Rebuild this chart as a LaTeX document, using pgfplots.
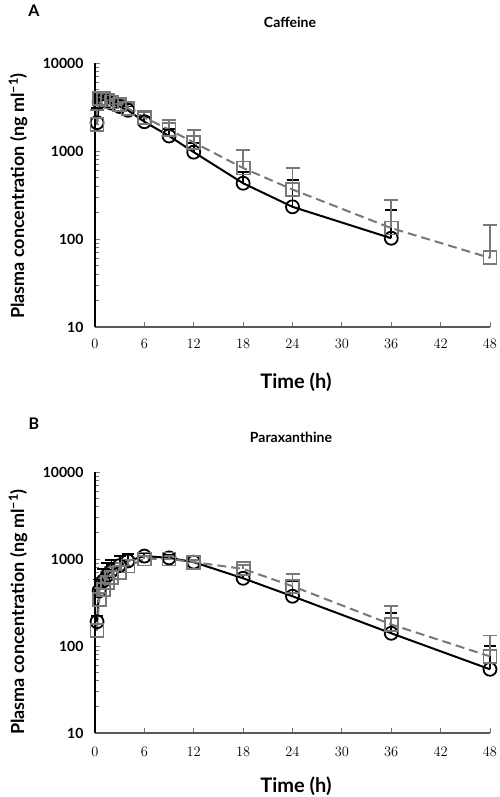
\documentclass[border=0pt]{standalone}
\usepackage{fontspec}
\setmainfont{Lato}
\usepackage{pgfplots}
\usepackage{pgfplotstable}
\pgfplotsset{compat=1.18}
\definecolor{sq}{HTML}{787878}

\pgfplotstableread{
t c e
0.25 2100 1000
0.5 3600 500
1 3800 500
1.5 3700 450
2 3500 400
3 3200 350
4 2900 300
6 2150 300
9 1480 300
12 970 250
18 430 150
24 232 240
36 102 111
}\cafA
\pgfplotstableread{
t c e
0.25 2000 900
0.5 3950 700
1 4000 600
1.5 3800 600
2 3600 500
3 3350 450
4 3050 400
6 2400 400
9 1750 500
12 1250 500
18 640 380
24 365 275
36 133 147
48 61 84
}\cafB
\pgfplotstableread{
t c e
0.25 190 30
0.5 430 150
1 560 200
1.5 650 250
2 730 250
3 840 250
4 950 200
6 1080 100
9 1030 80
12 920 60
18 600 60
24 373 187
36 140 97
48 54 47
}\parA
\pgfplotstableread{
t c e
0.25 150 30
0.5 340 120
1 450 150
1.5 540 180
2 610 200
3 700 200
4 830 150
6 1000 80
9 1000 80
12 920 60
18 770 80
24 487 183
36 177 110
48 76 56
}\parB

\begin{document}
\begin{tikzpicture}
\path[use as bounding box] (0pt,0pt) rectangle (500pt,797pt);

% Panel A
\begin{axis}[
  ymode=log,
  scale only axis, width=395pt, height=264pt, at={(95pt,470pt)}, anchor=south west,
  xmin=0, xmax=48, ymin=10, ymax=10000,
  axis lines=left,
  x axis line style={-, line width=1.3pt, color=black!65},
  y axis line style={-, line width=1.3pt, color=black},
  xtick={0,6,...,48}, ytick={10,100,1000,10000}, yticklabels={10,100,1000,10000},
  tick align=inside, major tick length=5pt, minor tick length=4pt,
  tick style={black!55, line width=0.9pt},
  ticklabel style={font=\bfseries\fontsize{14}{14}\selectfont},
  xticklabel style={yshift=-9pt},
  yticklabel style={xshift=-8pt},
  clip=false,
]
\addplot[color=black, line width=2pt,
   mark=o, mark size=6.5pt, mark options={solid, draw=black, line width=1.8pt},
   error bars/.cd, y dir=plus, y explicit,
   error bar style={solid, line width=1.8pt, color=black},
   error mark options={solid, rotate=90, mark size=6pt, line width=1.8pt, color=black}]
   table[x=t, y=c, y error=e] {\cafA};
\addplot[color=sq, line width=2pt, dash pattern=on 9pt off 5pt,
   mark=square, mark size=6.5pt, mark options={solid, draw=sq, line width=1.8pt},
   error bars/.cd, y dir=plus, y explicit,
   error bar style={solid, line width=1.8pt, color=sq},
   error mark options={solid, rotate=90, mark size=7pt, line width=1.8pt, color=sq}]
   table[x=t, y=c, y error=e] {\cafB};
\end{axis}

% Panel B
\begin{axis}[
  ymode=log,
  scale only axis, width=395pt, height=261pt, at={(95pt,64pt)}, anchor=south west,
  xmin=0, xmax=48, ymin=10, ymax=10000,
  axis lines=left,
  x axis line style={-, line width=1.3pt, color=black!65},
  y axis line style={-, line width=1.3pt, color=black},
  xtick={0,6,...,48}, ytick={10,100,1000,10000}, yticklabels={10,100,1000,10000},
  tick align=inside, major tick length=5pt, minor tick length=4pt,
  tick style={black!55, line width=0.9pt},
  ticklabel style={font=\bfseries\fontsize{14}{14}\selectfont},
  xticklabel style={yshift=-11pt},
  yticklabel style={xshift=-8pt},
  clip=false,
]
\addplot[color=black, line width=2pt,
   mark=o, mark size=6.5pt, mark options={solid, draw=black, line width=1.8pt},
   error bars/.cd, y dir=plus, y explicit,
   error bar style={solid, line width=1.8pt, color=black},
   error mark options={solid, rotate=90, mark size=6pt, line width=1.8pt, color=black}]
   table[x=t, y=c, y error=e] {\parA};
\addplot[color=sq, line width=2pt, dash pattern=on 9pt off 5pt,
   mark=square, mark size=6.5pt, mark options={solid, draw=sq, line width=1.8pt},
   error bars/.cd, y dir=plus, y explicit,
   error bar style={solid, line width=1.8pt, color=sq},
   error mark options={solid, rotate=90, mark size=7pt, line width=1.8pt, color=sq}]
   table[x=t, y=c, y error=e] {\parB};
\end{axis}

\node[font=\bfseries\fontsize{16}{16}\selectfont] at (34pt,786pt) {A};
\node[font=\bfseries\fontsize{14}{14}\selectfont] at (290pt,775pt) {Caffeine};
\node[font=\bfseries\fontsize{20}{20}\selectfont] at (296pt,415pt) {Time (h)};
\node[rotate=90, font=\bfseries\fontsize{18}{18}\selectfont] at (18pt,601pt) {Plasma concentration (ng ml\textsuperscript{−1})};

\node[font=\bfseries\fontsize{16}{16}\selectfont] at (34pt,373pt) {B};
\node[font=\bfseries\fontsize{14}{14}\selectfont] at (291pt,360pt) {Paraxanthine};
\node[font=\bfseries\fontsize{20}{20}\selectfont] at (296pt,11pt) {Time (h)};
\node[rotate=90, font=\bfseries\fontsize{18}{18}\selectfont] at (18pt,185pt) {Plasma concentration (ng ml\textsuperscript{−1})};
\end{tikzpicture}
\end{document}
